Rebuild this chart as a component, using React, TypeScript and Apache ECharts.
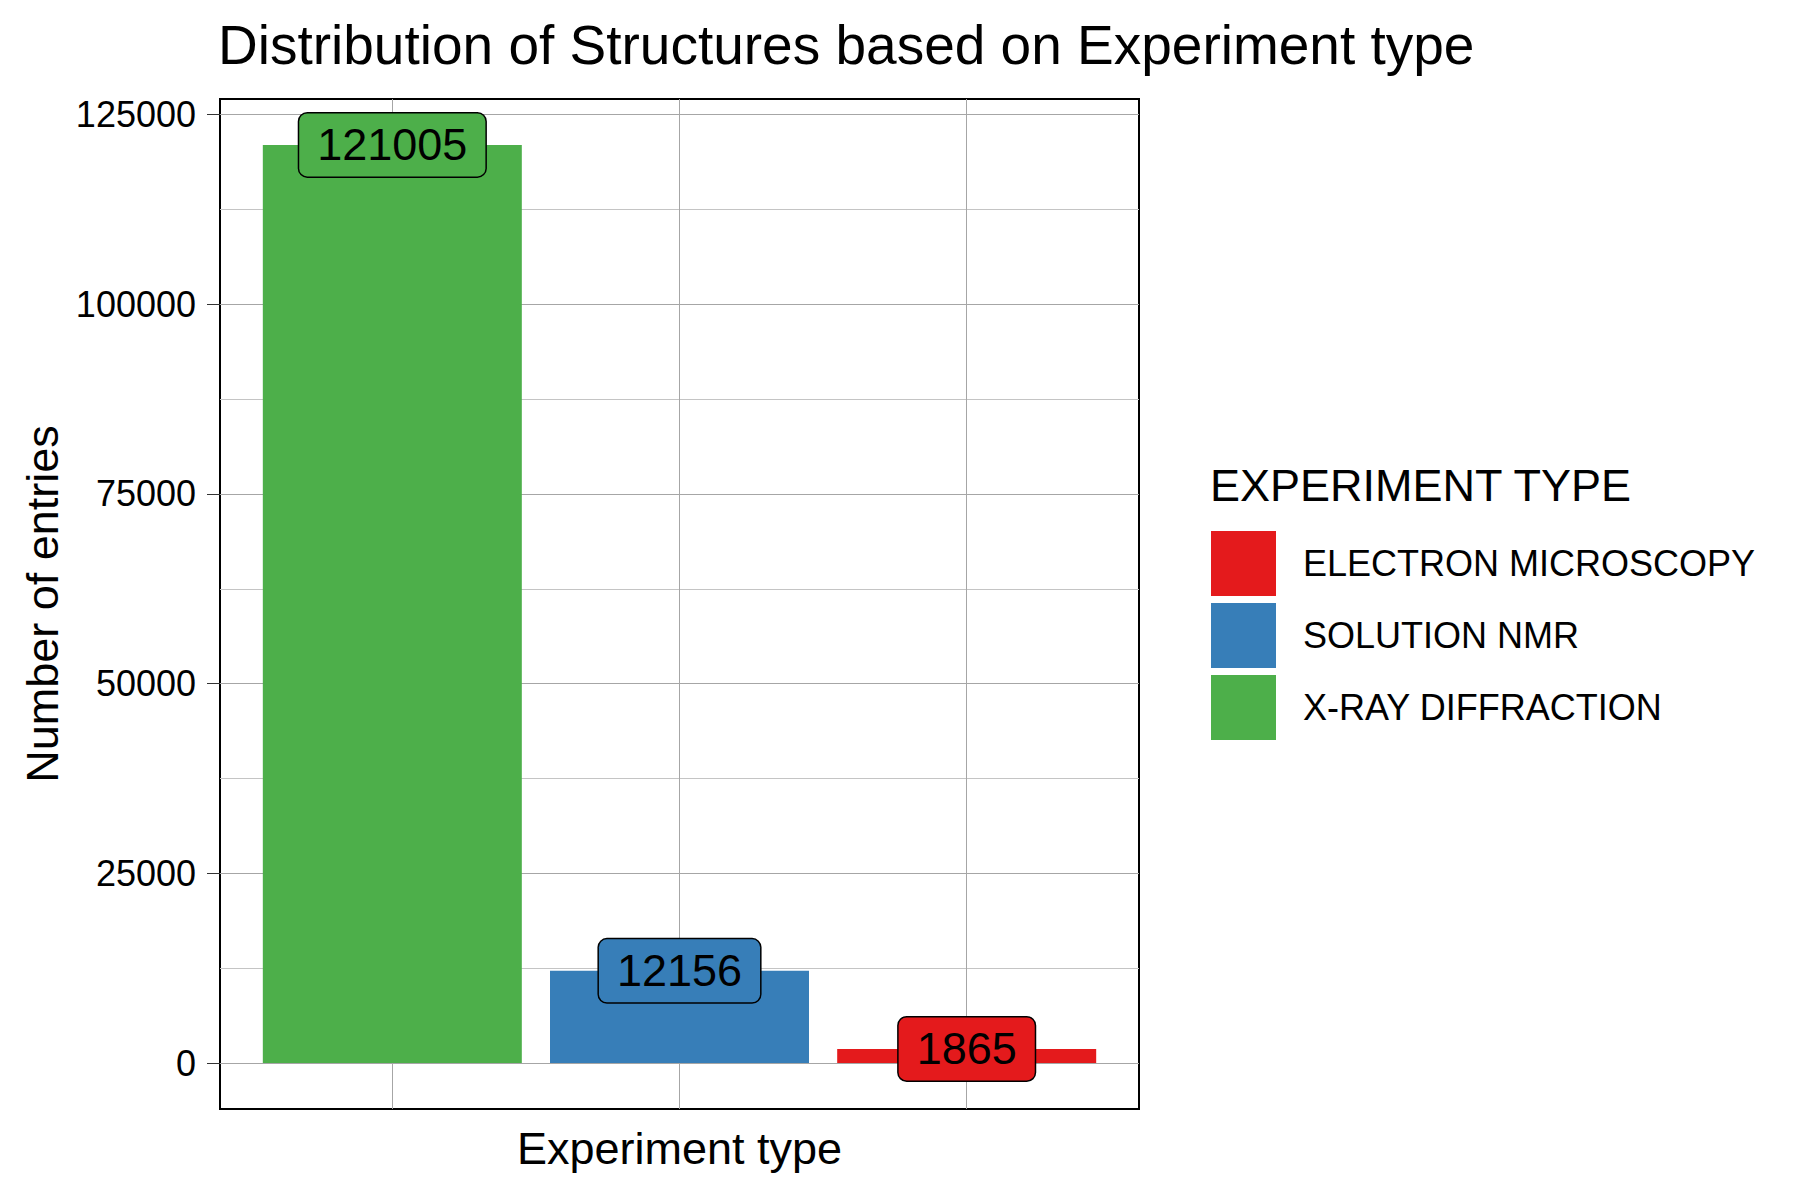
import React, { useEffect, useRef } from "react";
import * as echarts from "echarts";

const categories = ["X-RAY DIFFRACTION", "SOLUTION NMR", "ELECTRON MICROSCOPY"];
const positions = [1, 2, 3];
const counts = [121005, 12156, 1865];
const legendOrder = ["ELECTRON MICROSCOPY", "SOLUTION NMR", "X-RAY DIFFRACTION"];
const colorMap: Record<string, string> = {
  "ELECTRON MICROSCOPY": "#E41A1C",
  "SOLUTION NMR": "#377EB8",
  "X-RAY DIFFRACTION": "#4DAF4A",
};
const yMajorTicks = [0, 25000, 50000, 75000, 100000, 125000];
const yMinorTicks = [12500, 37500, 62500, 87500, 112500];
const xTicks = [1, 2, 3];

const FONT = "Liberation Sans, Arial, Helvetica, sans-serif";

export default function App() {
  const ref = useRef<HTMLDivElement>(null);
  useEffect(() => {
    document.body.style.margin = "0";
    const chart = echarts.init(ref.current!, null, { renderer: "svg" });
    const barData = categories.map((c, i) => ({
      value: [positions[i], counts[i]],
      itemStyle: { color: colorMap[c] },
    }));
    const labelData = categories.map((c, i) => ({
      value: [positions[i], counts[i]],
      label: { backgroundColor: colorMap[c] },
    }));
    const gridLines = [
      ...yMinorTicks.map((v) => ({ yAxis: v, lineStyle: { color: "#c4c4c4", width: 1, type: "solid" } })),
      ...yMajorTicks.map((v) => ({ yAxis: v, lineStyle: { color: "#a6a6a6", width: 1, type: "solid" } })),
      ...xTicks.map((v) => ({ xAxis: v, lineStyle: { color: "#a6a6a6", width: 1, type: "solid" } })),
    ];
    chart.setOption({
      animation: false,
      textStyle: { fontFamily: FONT },
      title: [
        {
          text: "Distribution of Structures based on Experiment type",
          left: 218,
          top: 17,
          padding: 0,
          textStyle: { fontFamily: FONT, fontSize: 55, fontWeight: "normal", color: "#000" },
        },
        {
          text: "EXPERIMENT TYPE",
          left: 1210,
          top: 463,
          padding: 0,
          textStyle: { fontFamily: FONT, fontSize: 45, fontWeight: "normal", color: "#000" },
        },
      ],
      legend: {
        orient: "vertical",
        left: 1211,
        top: 531,
        itemWidth: 65,
        itemHeight: 65,
        itemGap: 7,
        padding: 0,
        data: legendOrder.map((n) => ({ name: n, icon: "rect" })),
        textStyle: { fontFamily: FONT, fontSize: 36, color: "#000", padding: [0, 0, 0, 22] },
        selectedMode: false,
      },
      grid: {
        left: 220,
        top: 99,
        width: 919,
        height: 1010,
        show: true,
        borderColor: "#000",
        borderWidth: 2,
        backgroundColor: "#fff",
      },
      xAxis: {
        type: "value",
        min: 0.4,
        max: 3.6,
        name: "Experiment type",
        nameLocation: "middle",
        nameGap: 17,
        nameTextStyle: { fontFamily: FONT, fontSize: 45, color: "#000", verticalAlign: "top" },
        axisLine: { show: false },
        splitLine: { show: false },
        axisTick: { show: true, length: 13, customValues: xTicks, lineStyle: { color: "#333", width: 1 } },
        axisLabel: { show: false },
      },
      yAxis: {
        type: "value",
        min: -6050,
        max: 127055,
        name: "Number of entries",
        nameLocation: "middle",
        nameGap: 155,
        nameTextStyle: { fontFamily: FONT, fontSize: 45, color: "#000" },
        axisLine: { show: false },
        splitLine: { show: false },
        axisTick: { show: true, length: 13, customValues: yMajorTicks, lineStyle: { color: "#333", width: 1 } },
        axisLabel: {
          show: true,
          customValues: yMajorTicks,
          margin: 24,
          fontFamily: FONT,
          fontSize: 36,
          color: "#000",
          formatter: (v: number) => String(v),
        },
      },
      series: [
        {
          name: "bars",
          type: "bar",
          barWidth: 259,
          data: barData,
          z: 2,
          markLine: {
            silent: true,
            symbol: ["none", "none"],
            label: { show: false },
            z: 1,
            data: gridLines,
          },
        },
        {
          name: "labels",
          type: "scatter",
          symbolSize: 1,
          itemStyle: { color: "rgba(0,0,0,0)", opacity: 1 },
          z: 5,
          data: labelData,
          label: {
            show: true,
            position: "inside",
            formatter: (p: any) => String(p.value[1]),
            fontFamily: FONT,
            fontSize: 45,
            lineHeight: 45,
            color: "#000",
            borderColor: "#000",
            borderWidth: 1.5,
            borderRadius: 8,
            padding: [9, 18],
          },
        },
        ...legendOrder.map((n) => ({
          name: n,
          type: "scatter",
          data: [],
          itemStyle: { color: colorMap[n], opacity: 1 },
        })),
      ],
    });
    return () => chart.dispose();
  }, []);
  return <div ref={ref} style={{ width: 1800, height: 1200, position: "absolute", left: 0, top: 0 }} />;
}
